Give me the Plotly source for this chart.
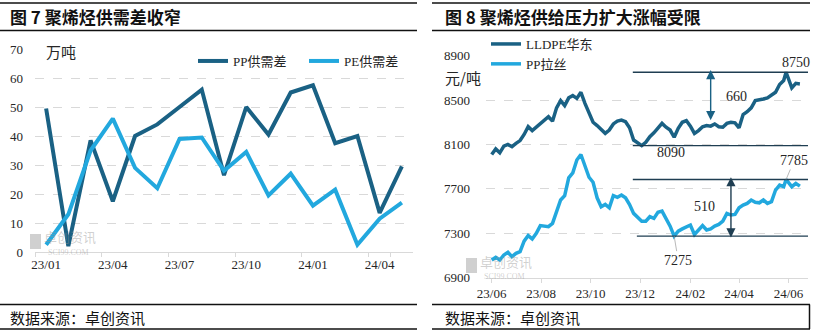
import plotly.graph_objects as go

W, H = 816, 333

# ---------------- 图7: monthly supply-demand gap (万吨) ----------------
months = ["23/01", "23/02", "23/03", "23/04", "23/05", "23/06", "23/07", "23/08",
          "23/09", "23/10", "23/11", "23/12", "24/01", "24/02", "24/03", "24/04", "24/05"]
pp_gap = [49.5, 2.0, 38.5, 17.5, 40.0, 44.0, 50.0, 56.0,
          26.5, 50.0, 40.5, 55.0, 57.5, 37.5, 40.0, 13.5, 29.5]
pe_gap = [2.5, 13.0, 35.0, 46.0, 29.0, 22.0, 39.0, 39.5,
          28.0, 34.5, 19.5, 27.0, 16.0, 21.5, 2.5, 11.5, 17.0]
gap_ticks = months[::3]

# ---------------- 图8: LLDPE / PP spot prices (元/吨) ----------------
price_dates = [
    "2023-06-01", "2023-06-06", "2023-06-11", "2023-06-16", "2023-06-21", "2023-06-26",
    "2023-07-01", "2023-07-06", "2023-07-11", "2023-07-16", "2023-07-21", "2023-07-26",
    "2023-07-31", "2023-08-05", "2023-08-10", "2023-08-15", "2023-08-20", "2023-08-25",
    "2023-08-30", "2023-09-04", "2023-09-09", "2023-09-14", "2023-09-19", "2023-09-24",
    "2023-09-29", "2023-10-04", "2023-10-09", "2023-10-14", "2023-10-19", "2023-10-24",
    "2023-10-29", "2023-11-03", "2023-11-08", "2023-11-13", "2023-11-18", "2023-11-23",
    "2023-11-28", "2023-12-03", "2023-12-08", "2023-12-13", "2023-12-18", "2023-12-23",
    "2023-12-28", "2024-01-02", "2024-01-07", "2024-01-12", "2024-01-17", "2024-01-22",
    "2024-01-27", "2024-02-01", "2024-02-06", "2024-02-11", "2024-02-16", "2024-02-21",
    "2024-02-26", "2024-03-02", "2024-03-07", "2024-03-12", "2024-03-17", "2024-03-22",
    "2024-03-27", "2024-04-01", "2024-04-06", "2024-04-11", "2024-04-16", "2024-04-21",
    "2024-04-26", "2024-05-01", "2024-05-06", "2024-05-11", "2024-05-16", "2024-05-21",
    "2024-05-26", "2024-05-29", "2024-06-05", "2024-06-10", "2024-06-15",
]
lldpe_east = [
    8010, 8060, 8025, 8085, 8100, 8080,
    8110, 8135, 8190, 8260, 8225, 8255,
    8290, 8315, 8350, 8310, 8430, 8495,
    8450, 8520, 8540, 8515, 8570, 8470,
    8390, 8300, 8270, 8235, 8200, 8230,
    8285, 8310, 8320, 8305, 8250, 8140,
    8110, 8090, 8120, 8170, 8205, 8250,
    8290, 8255, 8230, 8165, 8245, 8300,
    8315, 8265, 8200, 8225, 8260, 8270,
    8265, 8285, 8260, 8255, 8290, 8300,
    8295, 8250, 8370, 8395, 8430, 8495,
    8500, 8510, 8520, 8545, 8570, 8640,
    8675, 8750, 8610, 8650, 8645,
]
pp_raffia = [
    7060, 7085, 7060, 7105, 7130, 7090,
    7120, 7135, 7230, 7280, 7250, 7300,
    7370, 7365, 7360, 7390, 7505, 7600,
    7640, 7800, 7845, 7960, 8010, 7900,
    7805, 7760, 7620, 7540, 7560, 7530,
    7640, 7625, 7645, 7620, 7560, 7480,
    7445, 7410, 7410, 7450, 7435, 7490,
    7500, 7440, 7365, 7275, 7320, 7340,
    7355, 7375, 7290, 7330, 7370, 7330,
    7340, 7365, 7380, 7410, 7480, 7465,
    7470, 7530, 7555, 7570, 7600, 7580,
    7575, 7600, 7570, 7585, 7690, 7735,
    7720, 7785, 7720, 7750, 7725,
]
price_tick_dates = ["2023-06-01", "2023-08-01", "2023-10-01", "2023-12-01",
                    "2024-02-01", "2024-04-01", "2024-06-01"]
price_tick_text = ["23/06", "23/08", "23/10", "23/12", "24/02", "24/04", "24/06"]

# range markers quoted in the chart
lldpe_high, lldpe_low, lldpe_span = 8750, 8090, 660
pp_high, pp_low, pp_span = 7785, 7275, 510
pp_high_date, pp_low_date = "2024-05-29", "2024-01-12"

DARK = "#1a6184"
LIGHT = "#22a8de"
NAVY = "#1f3e52"
GRID = "#d9d9d9"
TXT = "#262626"
NUM_FONT = "Liberation Serif, Noto Sans CJK SC"
CJK_FONT = "Noto Sans CJK SC"


def px(x):
    return x / W


def py(y):
    return 1 - y / H


fig = go.Figure()

fig.add_trace(go.Scatter(x=months, y=pp_gap, name="PP供需差", mode="lines",
                         line=dict(color=DARK, width=4), xaxis="x", yaxis="y",
                         legend="legend"))
fig.add_trace(go.Scatter(x=months, y=pe_gap, name="PE供需差", mode="lines",
                         line=dict(color=LIGHT, width=4), xaxis="x", yaxis="y",
                         legend="legend"))
fig.add_trace(go.Scatter(x=price_dates, y=lldpe_east, name="LLDPE华东", mode="lines",
                         line=dict(color=DARK, width=3.5), xaxis="x2", yaxis="y2",
                         legend="legend2"))
fig.add_trace(go.Scatter(x=price_dates, y=pp_raffia, name="PP拉丝", mode="lines",
                         line=dict(color=LIGHT, width=3.5), xaxis="x2", yaxis="y2",
                         legend="legend2"))

axis_font = dict(family=NUM_FONT, size=13, color=TXT)

fig.update_layout(
    width=W, height=H,
    margin=dict(l=0, r=0, t=0, b=0),
    paper_bgcolor="white", plot_bgcolor="white",
    font=dict(family=NUM_FONT, color=TXT),
    xaxis=dict(domain=[px(35), px(413)], type="category", range=[-0.5, len(months) - 0.5],
               tickvals=gap_ticks, ticktext=gap_ticks, tickangle=0, ticks="outside",
               tickson="boundaries", ticklen=4, tickcolor=GRID, showline=True,
               linecolor=GRID, linewidth=1, showgrid=False, tickfont=axis_font,
               automargin=False, anchor="y"),
    yaxis=dict(domain=[py(252), py(49)], range=[0, 70], dtick=10, showgrid=True,
               gridcolor=GRID, griddash="dash", zeroline=False, ticks="",
               ticklabelstandoff=11, tickfont=axis_font, automargin=False, anchor="x"),
    xaxis2=dict(domain=[px(486), px(808)], type="date", range=["2023-05-25", "2024-06-25"],
                tickvals=price_tick_dates, ticktext=price_tick_text, tickangle=0,
                ticks="outside", ticklen=4, tickcolor=GRID, showline=True, linecolor=GRID,
                linewidth=1, showgrid=False, tickfont=axis_font, automargin=False,
                anchor="y2"),
    yaxis2=dict(domain=[py(277.8), py(55.6)], range=[6900, 8900], dtick=400, tick0=6900,
                showgrid=True, gridcolor=GRID, griddash="dash", zeroline=False, ticks="",
                ticklabelstandoff=15, tickfont=axis_font, automargin=False, anchor="x2"),
    legend=dict(orientation="h", x=px(193), y=py(46), xanchor="left", yanchor="top",
                bgcolor="rgba(0,0,0,0)", font=dict(family=NUM_FONT, size=13, color=TXT),
                entrywidth=66, entrywidthmode="pixels", itemwidth=30),
    legend2=dict(orientation="v", x=px(486), y=py(29), xanchor="left", yanchor="top",
                 bgcolor="rgba(0,0,0,0)", font=dict(family=NUM_FONT, size=13, color=TXT),
                 itemwidth=30, tracegroupgap=0),
)

# panel frames: header and source bars
frame = dict(type="line", xref="paper", yref="paper", line=dict(color="#111111", width=1.5))
for x0, x1 in [(0, 417), (432, 810)]:
    for yy in [3, 30.5, 304.5, 329]:
        fig.add_shape(**frame, x0=px(x0), x1=px(x1), y0=py(yy), y1=py(yy))
fig.add_shape(**frame, x0=px(809.5), x1=px(809.5), y0=py(304.5), y1=py(329))

# range guide lines on the price panel
guide = dict(type="line", xref="x2", yref="y2", line=dict(color=NAVY, width=1.3))
fig.add_shape(**guide, x0="2023-11-22", x1="2024-06-25", y0=lldpe_high, y1=lldpe_high)
fig.add_shape(**guide, x0="2023-11-22", x1="2024-06-25", y0=lldpe_low, y1=lldpe_low)
fig.add_shape(**guide, x0="2023-11-22", x1="2024-06-25", y0=pp_high, y1=pp_high)
fig.add_shape(**guide, x0="2023-11-27", x1="2024-06-25", y0=pp_low, y1=pp_low)

# faint watermark logo blocks
WM = "rgba(150,150,150,0.45)"
for x, y in [(30, 234), (466, 258)]:
    fig.add_shape(type="rect", xref="paper", yref="paper", x0=px(x), x1=px(x + 11),
                  y0=py(y), y1=py(y + 15), line=dict(width=0), fillcolor=WM, layer="above")

annotations = []

# titles and source notes
for x, text in [(8, "图 7 聚烯烃供需差收窄"), (443, "图 8 聚烯烃供给压力扩大涨幅受限")]:
    annotations.append(dict(xref="paper", yref="paper", x=px(x), y=py(17), xanchor="left",
                            yanchor="middle", showarrow=False, text="<b>" + text + "</b>",
                            font=dict(family=CJK_FONT, size=17, color="#111111")))
for x in [8, 443]:
    annotations.append(dict(xref="paper", yref="paper", x=px(x), y=py(317), xanchor="left",
                            yanchor="middle", showarrow=False, text="数据来源：卓创资讯",
                            font=dict(family=CJK_FONT, size=15, color="#111111")))

# unit labels
annotations.append(dict(xref="paper", yref="paper", x=px(44), y=py(51), xanchor="left",
                        yanchor="middle", showarrow=False, text="万吨",
                        font=dict(family=CJK_FONT, size=15, color=TXT)))
annotations.append(dict(xref="paper", yref="paper", x=px(443), y=py(77), xanchor="left",
                        yanchor="middle", showarrow=False, text="元/吨",
                        font=dict(family=CJK_FONT, size=15, color=TXT)))

# watermark text
for x, y in [(42, 237), (478, 261)]:
    annotations.append(dict(xref="paper", yref="paper", x=px(x), y=py(y),
                            xanchor="left", yanchor="middle", showarrow=False, text="卓创资讯",
                            font=dict(family=CJK_FONT, size=13, color=WM)))
    annotations.append(dict(xref="paper", yref="paper", x=px(x + 4), y=py(y + 15),
                            xanchor="left", yanchor="middle", showarrow=False, text="SCI99.COM",
                            font=dict(family=NUM_FONT, size=8, color=WM)))

# double-headed range arrows
arrow = dict(xref="x2", yref="y2", axref="x2", ayref="y2", text="", showarrow=True,
             arrowhead=2, arrowside="end+start", arrowsize=1.3, arrowwidth=1.4)
annotations.append(dict(**arrow, x="2024-02-26", ax="2024-02-26", y=8770, ay=8305,
                        arrowcolor=DARK))
annotations.append(dict(**arrow, x="2024-03-22", ax="2024-03-22", y=7805, ay=7250,
                        arrowcolor=NAVY))

# value labels
label_font = dict(family=NUM_FONT, size=14, color=TXT)
annotations.append(dict(xref="x2", yref="y2", x="2024-06-10", y=8842, text=str(lldpe_high),
                        showarrow=False, font=label_font))
annotations.append(dict(xref="x2", yref="y2", x="2024-01-08", y=8030, text=str(lldpe_low),
                        showarrow=False, font=label_font))
annotations.append(dict(xref="x2", yref="y2", x="2024-03-29", y=8530, text=str(lldpe_span),
                        showarrow=False, font=label_font))
annotations.append(dict(xref="x2", yref="y2", x="2024-02-18", y=7546, text=str(pp_span),
                        showarrow=False, font=label_font))
annotations.append(dict(xref="x2", yref="y2", x=pp_high_date, y=pp_high, text=str(pp_high),
                        showarrow=True, arrowhead=0, arrowwidth=0.7, arrowcolor="#999999",
                        ax=8, ay=-19, font=label_font))
annotations.append(dict(xref="x2", yref="y2", x=pp_low_date, y=pp_low, text=str(pp_low),
                        showarrow=True, arrowhead=0, arrowwidth=0.7, arrowcolor="#999999",
                        ax=4, ay=24, font=label_font))

fig.update_layout(annotations=annotations)

fig.write_html("out.html")
